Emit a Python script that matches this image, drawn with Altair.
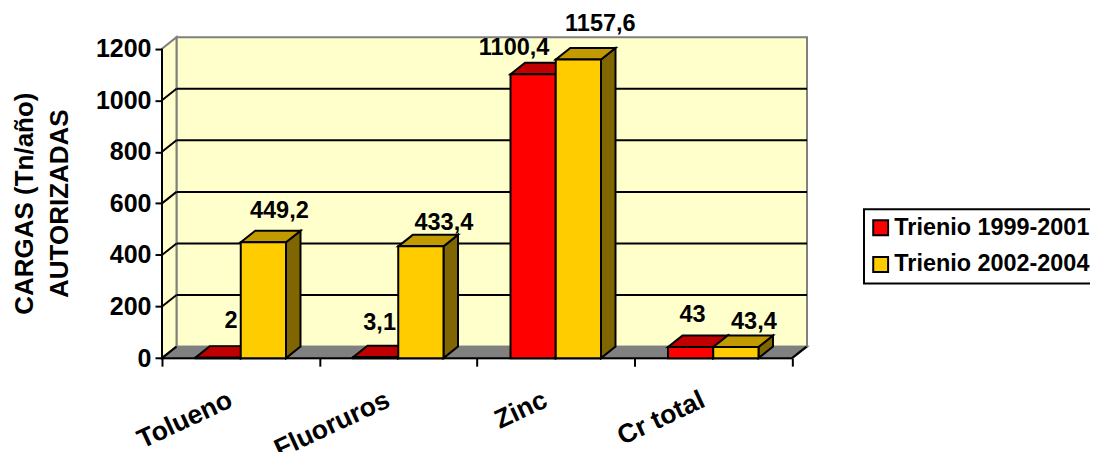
import altair as alt
import pandas as pd

categories = ["Tolueno", "Fluoruros", "Zinc", "Cr total"]
series_names = ["Trienio 1999-2001", "Trienio 2002-2004"]
values_a = [2, 3.1, 1100.4, 43]
values_b = [449.2, 433.4, 1157.6, 43.4]
label_a = ["2", "3,1", "1100,4", "43"]
label_b = ["449,2", "433,4", "1157,6", "43,4"]
y_ticks = [0, 200, 400, 600, 800, 1000, 1200]

# layout (pixels). The page shrinks a 1090 px wide svg into its 1082 px body, so sizes are pre-scaled by K.
K = 1090 / 1082
W, H = 645 * K, 321 * K
PX_X = 157.5 * K            # px per category
PX_Y = 309.5 / 1200 * K     # px per value unit
DX = 14.5 * K / PX_X        # depth in x units
DY = 11.5 * K / PX_Y        # depth in y units
BAR = 45.25 * K / PX_X
XMAX, YMAX = W / PX_X, H / PX_Y
N = len(categories)
# hand-placed label nudges (px) as in the original
nudge_a = [(13, 37), (4, 34), (-19, 26), (2, 32)]
nudge_b = [(16, 31), (23, 23), (22, 36), (18, 25)]

FONT = "Liberation Sans"
FS = 23.5 * K
FS_TICK = 25 * K
FS_TITLE = 26 * K
FS_LEGEND = 23.4 * K
BLACK, GRAY, WALL = "#000000", "#808080", "#FFFFCC"
cols = {
    series_names[0]: dict(front="#FF0000", top="#C00000", side="#800000"),
    series_names[1]: dict(front="#FFCC00", top="#C19A00", side="#806600"),
}

xs = alt.Scale(domain=[0, XMAX], nice=False, zero=False)
ys = alt.Scale(domain=[0, YMAX], nice=False, zero=False)
X = lambda f: alt.X(f, type="quantitative", scale=xs)
Y = lambda f: alt.Y(f, type="quantitative", scale=ys)
X2 = lambda f: alt.X2(f)
Y2 = lambda f: alt.Y2(f)

bars, side, top = [], [], []
for s, (name, vals) in enumerate(zip(series_names, [values_a, values_b])):
    for i, v in enumerate(vals):
        x0 = i + 0.5 + (s - 1) * BAR
        x1 = x0 + BAR
        bid = f"{s}-{i}"
        bars.append(dict(series=name, s=s, x0=x0, x1=x1, v=v))
        side += [dict(s=s, bar=bid, x=x1, lo=0, hi=v),
                 dict(s=s, bar=bid, x=x1 + DX, lo=DY, hi=v + DY)]
        top += [dict(s=s, bar=bid, y=v, a=x0, b=x1),
                dict(s=s, bar=bid, y=v + DY, a=x0 + DX, b=x1 + DX)]
bars, side, top = pd.DataFrame(bars), pd.DataFrame(side), pd.DataFrame(top)

wall = pd.DataFrame([dict(x0=DX, x1=XMAX, y0=DY, y1=YMAX)])
left_wall = pd.DataFrame([dict(x=0, lo=0, hi=1200), dict(x=DX, lo=DY, hi=YMAX)])
floor = pd.DataFrame([dict(y=0, a=0, b=N), dict(y=DY, a=DX, b=XMAX)])
grid = pd.DataFrame([dict(y=t + DY, a=DX, b=XMAX) for t in y_ticks[1:-1]])
slopes = pd.DataFrame(
    [r for t in y_ticks[:-1] for r in (dict(t=t, x=0, y=t), dict(t=t, x=DX, y=t + DY))]
    + [dict(t=-1, x=N, y=0), dict(t=-1, x=N + DX, y=DY)]
)
axis_y = pd.DataFrame([dict(x=0, a=0, b=1200)])
axis_x = pd.DataFrame([dict(y=0, a=0, b=N)])
cats = pd.DataFrame(dict(x=[i + 0.5 for i in range(N)], c=categories))
rows = []
for s, (lab, vals, nud) in enumerate(zip([label_a, label_b], [values_a, values_b], [nudge_a, nudge_b])):
    for i in range(N):
        cx = i + 0.5 + (s - 0.5) * BAR
        rows.append(dict(x=cx + nud[i][0] * K / PX_X, y=vals[i] + nud[i][1] * K / PX_Y, t=lab[i]))
labels = pd.DataFrame(rows)

layers = [
    alt.Chart(wall).mark_rect(fill=WALL, stroke=GRAY, strokeWidth=2).encode(
        x=X("x0"), x2=X2("x1"), y=Y("y0"), y2=Y2("y1")),
    alt.Chart(left_wall).mark_area(fill=WALL, stroke=GRAY, strokeWidth=2).encode(
        x=X("x"), y=Y("lo"), y2=Y2("hi")),
    alt.Chart(floor).mark_area(orient="horizontal", fill=GRAY, stroke=GRAY, strokeWidth=2).encode(
        y=Y("y"), x=X("a"), x2=X2("b")),
    alt.Chart(grid).mark_rule(color=BLACK, strokeWidth=2).encode(
        y=Y("y"), x=X("a"), x2=X2("b")),
    alt.Chart(slopes).mark_line(color=BLACK, strokeWidth=2).encode(
        x=X("x"), y=Y("y"), detail="t:N"),
    alt.Chart(axis_x).mark_rule(color=BLACK, strokeWidth=2).encode(
        y=Y("y"), x=alt.X("a:Q", scale=xs, title=None, axis=alt.Axis(
            values=list(range(N + 1)), labels=False, domain=False, grid=False,
            tickSize=8 * K, tickWidth=2, tickColor=BLACK, orient="bottom", zindex=1)),
        x2=X2("b")),
    alt.Chart(axis_y).mark_rule(color=BLACK, strokeWidth=2).encode(
        x=X("x"), y=alt.Y("a:Q", scale=ys, axis=alt.Axis(
            values=y_ticks, domain=False, grid=False, tickSize=7 * K, tickWidth=2,
            tickColor=BLACK, labelFont=FONT, labelFontSize=FS_TICK, labelFontWeight="bold",
            labelColor=BLACK, labelPadding=4, format="d",
            title=["CARGAS (Tn/año)", "AUTORIZADAS"], titleFont=FONT, titleFontSize=FS_TITLE,
            titleFontWeight="bold", titleColor=BLACK, titleLineHeight=35 * K,
            titleX=-124 * K, titleY=166 * K, titleAnchor="middle", titleAlign="center", zindex=1)),
        y2=Y2("b")),
]

for s, name in enumerate(series_names):
    c = cols[name]
    layers += [
        alt.Chart(side[side.s == s]).mark_area(fill=c["side"], stroke=BLACK, strokeWidth=2).encode(
            x=X("x"), y=Y("lo"), y2=Y2("hi"), detail="bar:N"),
        alt.Chart(top[top.s == s]).mark_area(orient="horizontal", fill=c["top"], stroke=BLACK, strokeWidth=2).encode(
            y=Y("y"), x=X("a"), x2=X2("b"), detail="bar:N"),
        alt.Chart(bars[bars.s == s]).mark_rect(stroke=BLACK, strokeWidth=2).encode(
            x=X("x0"), x2=X2("x1"), y=Y("v"), y2=alt.Y2(datum=0),
            color=alt.Color("series:N", title=None,
                scale=alt.Scale(domain=series_names, range=[cols[n]["front"] for n in series_names]),
                legend=alt.Legend(orient="none", legendX=702 * K, legendY=172 * K, title=None,
                    fillColor="#FFFFFF", strokeColor=BLACK, padding=7,
                    symbolType="square", symbolSize=225, symbolStrokeColor=BLACK, symbolOffset=-2,
                    symbolStrokeWidth=2, labelFont=FONT, labelFontSize=FS_LEGEND,
                    labelFontWeight="bold", labelColor=BLACK, rowPadding=12,
                    labelOffset=2, labelLimit=400))),
    ]

layers += [
    alt.Chart(labels).mark_text(font=FONT, fontSize=FS, fontWeight="bold", color=BLACK, baseline="middle").encode(
        x=X("x"), y=Y("y"), text="t:N"),
    alt.Chart(cats).mark_text(font=FONT, fontSize=26.5 * K, fontWeight="bold", color=BLACK, align="right",
                              baseline="middle", angle=335, dx=-11 * K).encode(
        x=X("x"), y=alt.value(H + 36 * K), text="c:N"),
]

TOP = 27.5 * K
chart = alt.layer(*layers).properties(
    width=W, height=H,
    autosize=alt.AutoSizeParams(type="none"),
    padding={"left": 154 * K, "top": TOP, "right": 1090 - W - 154 * K, "bottom": 444 * K - H - TOP},
    background="#FFFFFF",
).configure_view(stroke=None).configure_legend(strokeWidth=2)

chart.save("out.html", embed_options={"renderer": "svg", "actions": False})
